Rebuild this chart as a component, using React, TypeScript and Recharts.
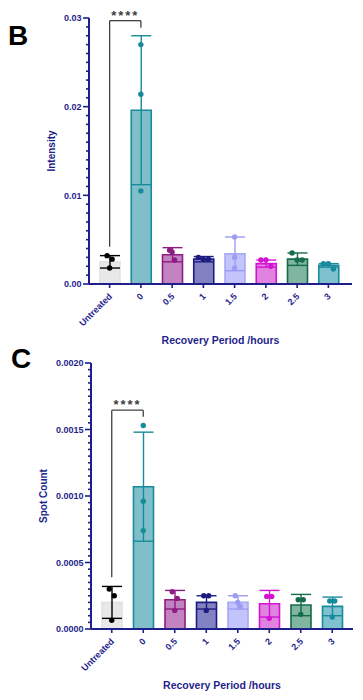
import React from "react";
import {
    ComposedChart,
    Bar,
    Cell,
    ErrorBar,
    Scatter,
    XAxis,
    YAxis,
    ReferenceLine
} from "recharts";

// categories shared by both panels
const categories = ["Untreated", "0", "0.5", "1", "1.5", "2", "2.5", "3"];

// panel B: intensity
const intensityMean = [0.0025, 0.0196, 0.0033, 0.0028, 0.0034, 0.0023, 0.0028, 0.0021];
const intensitySd = [0.0007, 0.0084, 0.0008, 0.0003, 0.0019, 0.0004, 0.0007, 0.0002];
const intensityRep1 = [0.0032, 0.0270, 0.0038, 0.0030, 0.0053, 0.0027, 0.0035, 0.0023];
const intensityRep2 = [0.0028, 0.0214, 0.0036, 0.0028, 0.0030, 0.0027, 0.0027, 0.0023];
const intensityRep3 = [0.0018, 0.0105, 0.0027, 0.0028, 0.0018, 0.0020, 0.0027, 0.0017];
const intensityTicks = [0, 0.01, 0.02, 0.03];
const intensityTickLabels = ["0.00", "0.01", "0.02", "0.03"];

// panel C: spot count
const spotMean = [0.00020, 0.00107, 0.00022, 0.00020, 0.00020, 0.00019, 0.00018, 0.00017];
const spotSd = [0.00012, 0.00041, 0.00007, 0.00005, 0.00005, 0.00010, 0.00008, 0.00007];
const spotRep1 = [0.00030, 0.00153, 0.00028, 0.00025, 0.00025, 0.000245, 0.00022, 0.00021];
const spotRep2 = [0.00025, 0.00096, 0.00023, 0.00025, 0.00020, 0.000245, 0.00022, 0.00021];
const spotRep3 = [0.000065, 0.00074, 0.00014, 0.00014, 0.00017, 0.00008, 0.00011, 0.00009];
const spotTicks = [0, 0.0005, 0.001, 0.0015, 0.002];
const spotTickLabels = ["0.0000", "0.0005", "0.0010", "0.0015", "0.0020"];

// colours per category
const barFills = ["#e8e8e8", "#80bfca", "#c283c0", "#8282c2", "#c4c4fd", "#e182e1", "#80b5a0", "#80c1cf"];
const barStrokes = ["#e2e2e2", "#178b9b", "#8d1c83", "#1c1c82", "#a9a9f6", "#d214d2", "#156c48", "#158b9d"];
const markColors = ["#000000", "#178b9b", "#8d1c83", "#1c1c82", "#9c9cf2", "#d214d2", "#156c48", "#158b9d"];

const NAVY = "#1f1f8c";
const FONT = "'Liberation Sans', Arial, Helvetica, sans-serif";

function buildRows(mean: number[], sd: number[], r1: number[], r2: number[], r3: number[]) {
    return categories.map((cat, i) => ({
        idx: i,
        cat,
        mean: mean[i],
        sd: sd[i],
        p1: r1[i],
        p2: r2[i],
        p3: r3[i]
    }));
}

// GraphPad spreads replicates sideways when they sit close together
function spread(values: number[], k: number, thr: number) {
    const group = values
        .map((v, j) => ({ v, j }))
        .filter(({ v, j }) => j === k || Math.abs(v - values[k]) < thr);
    if (group.length < 2) return 0;
    const pos = group.findIndex((g) => g.j === k);
    return (pos - (group.length - 1) / 2) * 5;
}

function makeYTick(step: number, majors: number[], labels: string[]) {
    return (props: any) => {
        const { x, y, payload } = props;
        const v = payload.value as number;
        const mi = majors.findIndex((m) => Math.abs(m - v) < step / 100);
        const len = mi >= 0 ? 6 : 3;
        return (
            <g>
                <line x1={x - len} x2={x} y1={y} y2={y} stroke={NAVY} strokeWidth={1.6} />
                {mi >= 0 && (
                    <text
                        x={x - len - 1.5}
                        y={y}
                        dy={3.2}
                        textAnchor="end"
                        fill={NAVY}
                        fontSize={9}
                        fontWeight="bold"
                        fontFamily={FONT}
                    >
                        {labels[mi]}
                    </text>
                )}
            </g>
        );
    };
}

function XTick(props: any) {
    const { x, y, payload } = props;
    const tx = x + 3;
    const ty = y + 13;
    return (
        <g>
            <line x1={x} x2={x} y1={y} y2={y + 4} stroke={NAVY} strokeWidth={1.6} />
            <text
                x={tx}
                y={ty}
                textAnchor="end"
                transform={`rotate(-45 ${tx} ${ty})`}
                fill={NAVY}
                fontSize={9}
                fontWeight="bold"
                fontFamily={FONT}
            >
                {payload.value}
            </text>
        </g>
    );
}

function Panel({
    rows,
    top,
    height,
    plotTop,
    plotBottom,
    yWidth,
    rightMargin,
    xPad,
    domainMax,
    minorStep,
    majors,
    labels,
    yTitle,
    yTitleX,
    bracket
}: {
    rows: any[];
    top: number;
    height: number;
    plotTop: number;
    plotBottom: number;
    yWidth: number;
    rightMargin: number;
    xPad: { left: number; right: number };
    domainMax: number;
    minorStep: number;
    majors: number[];
    labels: string[];
    yTitle: string;
    yTitleX: number;
    bracket: { low: number; high: number; right: number };
}) {
    const tickCount = Math.round(domainMax / minorStep) + 1;
    const ticks = Array.from({ length: tickCount }, (_, i) => Number((i * minorStep).toPrecision(6)));
    const thr = domainMax * 0.03;

    const dotShape = (k: number) => (p: any) => {
        if (p.cx == null || p.cy == null) return <g />;
        const vals = [p.payload.p1, p.payload.p2, p.payload.p3];
        const dx = spread(vals, k, thr);
        return <circle cx={p.cx + dx} cy={p.cy} r={2.7} fill={markColors[p.payload.idx]} />;
    };

    const bracketStyle = { stroke: "#404040", strokeWidth: 1.3 };

    return (
        <div style={{ position: "absolute", left: 0, top, width: 363, height }}>
            <ComposedChart
                width={363}
                height={height}
                data={rows}
                margin={{ top: plotTop, right: rightMargin, bottom: 0, left: 0 }}
            >
                <XAxis
                    dataKey="cat"
                    type="category"
                    padding={xPad}
                    height={height - plotBottom}
                    interval={0}
                    tickSize={0}
                    tickMargin={0}
                    tickLine={false}
                    axisLine={{ stroke: NAVY, strokeWidth: 2 }}
                    tick={XTick}
                    label={{
                        content: (lp: any) => {
                            const vb = lp.viewBox;
                            return (
                                <text
                                    x={vb.x + vb.width / 2}
                                    y={vb.y + 60}
                                    textAnchor="middle"
                                    fill={NAVY}
                                    fontSize={10.5}
                                    fontWeight="bold"
                                    fontFamily={FONT}
                                >
                                    Recovery Period /hours
                                </text>
                            );
                        }
                    }}
                />
                <YAxis
                    type="number"
                    domain={[0, domainMax]}
                    ticks={ticks}
                    interval={0}
                    width={yWidth}
                    tickSize={0}
                    tickMargin={0}
                    tickLine={false}
                    axisLine={{ stroke: NAVY, strokeWidth: 2 }}
                    tick={makeYTick(minorStep, majors, labels)}
                    label={{
                        content: (lp: any) => {
                            const vb = lp.viewBox;
                            const cx = vb.x + yTitleX;
                            const cy = vb.y + vb.height / 2;
                            return (
                                <text
                                    x={cx}
                                    y={cy}
                                    textAnchor="middle"
                                    transform={`rotate(-90 ${cx} ${cy})`}
                                    fill={NAVY}
                                    fontSize={10}
                                    fontWeight="bold"
                                    fontFamily={FONT}
                                >
                                    {yTitle}
                                </text>
                            );
                        }
                    }}
                />
                <Bar dataKey="mean" barSize={20} strokeWidth={1.6} isAnimationActive={false}>
                    {rows.map((r) => (
                        <Cell key={r.cat} fill={barFills[r.idx]} stroke={barStrokes[r.idx]} />
                    ))}
                    {rows.map((r) => (
                        <ErrorBar
                            key={"e" + r.cat}
                            dataKey={(row: any) => (row.idx === r.idx ? row.sd : undefined)}
                            width={10}
                            strokeWidth={1.4}
                            stroke={markColors[r.idx]}
                            direction="y"
                            isAnimationActive={false}
                        />
                    ))}
                </Bar>
                <Scatter dataKey="p1" shape={dotShape(0)} isAnimationActive={false} />
                <Scatter dataKey="p2" shape={dotShape(1)} isAnimationActive={false} />
                <Scatter dataKey="p3" shape={dotShape(2)} isAnimationActive={false} />
                <ReferenceLine
                    segment={[{ x: categories[0], y: bracket.low }, { x: categories[0], y: bracket.high }]}
                    {...bracketStyle}
                />
                <ReferenceLine
                    segment={[{ x: categories[0], y: bracket.high }, { x: categories[1], y: bracket.high }]}
                    {...bracketStyle}
                    label={{
                        value: "****",
                        position: "top",
                        offset: 1,
                        fill: "#404040",
                        fontSize: 13,
                        fontWeight: "bold",
                        fontFamily: FONT,
                        letterSpacing: 2
                    }}
                />
                <ReferenceLine
                    segment={[{ x: categories[1], y: bracket.high }, { x: categories[1], y: bracket.right }]}
                    {...bracketStyle}
                />
            </ComposedChart>
        </div>
    );
}

export default function App() {
    const intensityRows = buildRows(intensityMean, intensitySd, intensityRep1, intensityRep2, intensityRep3);
    const spotRows = buildRows(spotMean, spotSd, spotRep1, spotRep2, spotRep3);

    return (
        <div style={{ position: "absolute", left: 0, top: 0, width: 363, height: 700, background: "#ffffff", fontFamily: FONT }}>
            <Panel
                rows={intensityRows}
                top={0}
                height={350}
                plotTop={18}
                plotBottom={284}
                yWidth={89}
                rightMargin={11}
                xPad={{ left: 5, right: 8 }}
                domainMax={0.03}
                minorStep={0.001}
                majors={intensityTicks}
                labels={intensityTickLabels}
                yTitle="Intensity"
                yTitleX={55}
                bracket={{ low: 0.0042, high: 0.0297, right: 0.0289 }}
            />
            <Panel
                rows={spotRows}
                top={340}
                height={360}
                plotTop={23}
                plotBottom={289}
                yWidth={91}
                rightMargin={10}
                xPad={{ left: 5, right: 5 }}
                domainMax={0.002}
                minorStep={0.00005}
                majors={spotTicks}
                labels={spotTickLabels}
                yTitle="Spot Count"
                yTitleX={47}
                bracket={{ low: 0.00039, high: 0.001645, right: 0.001595 }}
            />
            <div style={{ position: "absolute", left: 8, top: 22, fontSize: 28, fontWeight: "bold", color: "#000", lineHeight: 1 }}>
                B
            </div>
            <div style={{ position: "absolute", left: 11, top: 345, fontSize: 28, fontWeight: "bold", color: "#000", lineHeight: 1 }}>
                C
            </div>
        </div>
    );
}
